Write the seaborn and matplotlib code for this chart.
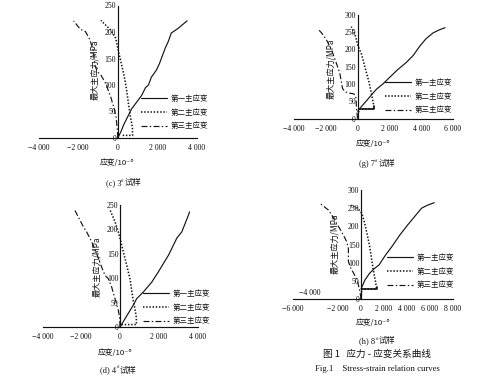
import matplotlib
matplotlib.use("Agg")
import matplotlib.pyplot as plt
import seaborn as sns

sns.set_theme(style="white")
CJK = ["Noto Sans CJK SC", "DejaVu Sans"]
SERIF = ["Liberation Serif", "DejaVu Serif"]
plt.rcParams["font.family"] = CJK
plt.rcParams["axes.unicode_minus"] = True

# ---------------- data (strain in 1e-6, stress in MPa) ----------------
labels = ["第一主应变", "第二主应变", "第三主应变"]

# (c) specimen 3#
c_s1_x = [0, 150, 300, 500, 700, 1000, 1200, 1400, 1550, 1700, 1950, 2100, 2200, 2400, 2550, 2700, 3050, 3500]
c_s1_y = [0, 11, 25, 40, 55, 70, 80, 95, 100, 115, 128, 140, 150, 170, 182, 198, 207, 221]
c_s2_x = [250, 750, 740, 640, 540, 450, 360, 240, 120, 20, -100, -360, -610, -850]
c_s2_y = [5, 5, 20, 40, 65, 90, 110, 131, 150, 166, 188, 204, 213, 222]
c_s3_x = [0, -17, -85, -187, -357, -612, -867, -1037, -1156, -1241, -1412, -1633, -1888, -2228]
c_s3_y = [0, 14, 40, 56, 78, 103, 120, 125, 138, 166, 186, 201, 205, 221]

# (g) specimen 7#
g_s1_x = [20, 40, 500, 1000, 1200, 1600, 2000, 2500, 3070, 3500, 3900, 4300, 4750, 5150, 5500]
g_s1_y = [20, 24, 48, 75, 85, 100, 118, 140, 162, 182, 208, 230, 247, 256, 262]
g_s2_x = [0, 100, 1000, 1030, 870, 700, 450, 250, 20, -150, -400]
g_s2_y = [0, 28, 28, 34, 72, 108, 150, 185, 210, 240, 265]
g_pl_x = [100, 1000, 1000]
g_pl_y = [28, 28, 36]
g_s3_x = [0, -60, -110, -230, -490, -800, -950, -1120, -1370, -1640, -1960, -2270, -2490]
g_s3_y = [0, 24, 63, 71, 73, 77, 87, 131, 164, 198, 227, 247, 258]

# (d) specimen 4#
d_s1_x = [0, 260, 520, 690, 860, 1210, 1640, 1980, 2240, 2500, 2760, 2930, 3190, 3360, 3530, 3590]
d_s1_y = [0, 17, 34, 45, 58, 72, 92, 113, 130, 147, 168, 182, 195, 212, 229, 236]
d_s2_x = [80, 500, 850, 840, 760, 680, 600, 530, 345, 170, 0, -90, -260, -530]
d_s2_y = [5, 5, 5, 20, 40, 55, 75, 96, 127, 154, 182, 195, 216, 241]
d_s3_x = [0, -20, -86, -207, -310, -431, -603, -776, -948, -1207, -1466, -1724, -1897, -2069, -2340]
d_s3_y = [0, 20, 34, 51, 65, 82, 99, 106, 123, 151, 175, 195, 206, 219, 240]

# (h) specimen 8#
h_s1_x = [0, 333, 750, 1170, 1580, 2140, 2690, 3390, 4080, 4900, 5300, 5800, 6400]
h_s1_y = [28, 52, 71, 84, 94, 121, 144, 176, 204, 235, 250, 258, 265]
h_s2_x = [0, 60, 1350, 1350, 1250, 1100, 950, 850, 720, 520, 320, 60, -300, -900]
h_s2_y = [0, 28, 28, 30, 50, 75, 103, 125, 150, 180, 208, 236, 250, 258]
h_pl_x = [60, 1350, 1350]
h_pl_y = [28, 28, 34]
h_s3_x = [0, -100, -300, -600, -900, -1110, -1110, -1260, -1700, -2135, -2570, -2865, -3510]
h_s3_y = [0, 20, 48, 68, 85, 103, 139, 158, 185, 208, 231, 245, 261]

c_xticks = [-4000, -2000, 0, 2000, 4000]
g_xticks = [-4000, -2000, 0, 2000, 4000, 6000]
d_xticks = [-4000, -2000, 0, 2000, 4000]
h_xticks = [-6000, -4000, -2000, 0, 2000, 4000, 6000, 8000]
yticks_250 = [0, 50, 100, 150, 200, 250]
yticks_300 = [0, 50, 100, 150, 200, 250, 300]

captions = ["(c) 3", "(g) 7", "(d) 4", "(h) 8"]
cap_suffix = "试样"
title_cn = "图 1   应力 - 应变关系曲线"
title_en = "Fig.1    Stress-strain relation curves"
ylab = "最大主应力/MPa"
xlab = "应变/10⁻⁶"

# ---------------- figure ----------------
W, H = 499, 389
fig = plt.figure(figsize=(W / 100, H / 100), dpi=100)
fig.patch.set_facecolor("white")


def fx(x):
    return x / W


def fy(y):
    return 1 - y / H


LC = "#151515"
TC = "#111111"
LWS = [0.85, 1.15, 0.85]
STY = ["-", (0, (0.9, 1.1)), (0, (5, 2, 1.2, 2))]
TICK_FS = 5.6


def fmt(v):
    s = f"{abs(v):,}".replace(",", " ")
    return ("−" + s) if v < 0 else s


def panel(px, xlim, ytop, xticks, yticks, series, plateau, leg_xy, ylab_xy, xlab_xy, hide_label=None):
    x0, x1, y0, y1 = px  # pixel of xlim[0], xlim[1], y=0, y=ytop
    ax = fig.add_axes([fx(x0), fy(y0), (x1 - x0) / W, (y0 - y1) / H])
    ax.set_facecolor("none")
    for (xs, ys), lab, ls, lw in zip(series, labels, STY, LWS):
        sns.lineplot(x=xs, y=ys, sort=False, estimator=None, ax=ax, color=LC,
                     linewidth=lw, linestyle=ls, label=lab)
    if plateau is not None:
        sns.lineplot(x=plateau[0], y=plateau[1], sort=False, estimator=None, ax=ax,
                     color=LC, linewidth=1.2, linestyle="-")
    ax.set_xlim(*xlim)
    ax.set_ylim(0, ytop)
    for s in ["top", "right"]:
        ax.spines[s].set_visible(False)
    ax.spines["left"].set_position(("data", 0))
    for s in ["left", "bottom"]:
        ax.spines[s].set_color(TC)
        ax.spines[s].set_linewidth(0.85)
    ax.set_xticks(xticks)
    ax.set_xticklabels(["" if (hide_label is not None and v == hide_label) else fmt(v) for v in xticks],
                       family=SERIF, fontsize=TICK_FS, color=TC)
    ax.set_yticks(yticks)
    ax.set_yticklabels([str(v) for v in yticks], family=SERIF, fontsize=TICK_FS, color=TC)
    ax.tick_params(axis="both", direction="in", length=2, width=0.6, color=TC)
    ax.tick_params(axis="x", pad=4.5)
    ax.tick_params(axis="y", pad=1.2)
    ax.set_xlabel("")
    ax.set_ylabel("")
    ax.grid(False)
    h, l = ax.get_legend_handles_labels()
    ax.legend(h[:3], l[:3], loc="upper left", bbox_to_anchor=(fx(leg_xy[0]), fy(leg_xy[1])),
              bbox_transform=fig.transFigure, frameon=False, fontsize=5.4,
              handlelength=3.4, handletextpad=0.6, labelspacing=0.75,
              borderaxespad=0, borderpad=0, labelcolor=TC)
    fig.text(fx(ylab_xy[0]), fy(ylab_xy[1]), ylab, rotation=90, ha="center", va="center",
             fontsize=5.9, color=TC, family=CJK)
    fig.text(fx(xlab_xy[0]), fy(xlab_xy[1]), xlab, ha="center", va="center",
             fontsize=5.6, color=TC, family=CJK)
    return ax


panel((38.5, 197, 138, 5.5), (-4000, 4000), 250, c_xticks, yticks_250,
      [(c_s1_x, c_s1_y), (c_s2_x, c_s2_y), (c_s3_x, c_s3_y)], None,
      (141, 95), (95, 70), (117, 163))
panel((294, 453, 118.5, 14.5), (-4000, 6000), 300, g_xticks, yticks_300,
      [(g_s1_x, g_s1_y), (g_s2_x, g_s2_y), (g_s3_x, g_s3_y)], (g_pl_x, g_pl_y),
      (385, 79), (331, 69), (373, 144))
panel((42.5, 197.5, 327, 205), (-4000, 4000), 250, d_xticks, yticks_250,
      [(d_s1_x, d_s1_y), (d_s2_x, d_s2_y), (d_s3_x, d_s3_y)], None,
      (143, 290), (97, 267), (115, 353))
panel((292.5, 452.5, 299, 190), (-6000, 8000), 300, h_xticks, yticks_300,
      [(h_s1_x, h_s1_y), (h_s2_x, h_s2_y), (h_s3_x, h_s3_y)], (h_pl_x, h_pl_y),
      (387, 254), (335, 244), (373, 323), hide_label=-4000)
fig.text(fx(310), fy(293), fmt(-4000), ha="center", va="center", family=SERIF,
         fontsize=TICK_FS, color=TC)

# captions with superscript '#'
renderer = fig.canvas.get_renderer()


def caption(xc, yc, pre, size=6.0):
    t1 = fig.text(0, 0, pre, family=SERIF, fontsize=size, va="center", color=TC)
    t2 = fig.text(0, 0, "#", family=SERIF, fontsize=size * 0.6, va="center", color=TC)
    t3 = fig.text(0, 0, cap_suffix, family=CJK, fontsize=size, va="center", color=TC)
    w1 = t1.get_window_extent(renderer).width
    w2 = t2.get_window_extent(renderer).width
    w3 = t3.get_window_extent(renderer).width
    left = xc - (w1 + w2 + w3) / 2
    t1.set_position((fx(left), fy(yc)))
    t2.set_position((fx(left + w1), fy(yc - 2.5)))
    t3.set_position((fx(left + w1 + w2 + 0.5), fy(yc)))


caption(123, 183, captions[0])
caption(377, 164, captions[1])
caption(118, 370, captions[2])
caption(377, 341, captions[3])

fig.text(fx(377), fy(354.5), title_cn, ha="center", va="center", family=CJK,
         fontsize=6.9, color=TC)
fig.text(fx(377), fy(369), title_en, ha="center", va="center", family=SERIF,
         fontsize=6.3, color=TC)

fig.savefig("out.png", dpi=100, facecolor="white")
